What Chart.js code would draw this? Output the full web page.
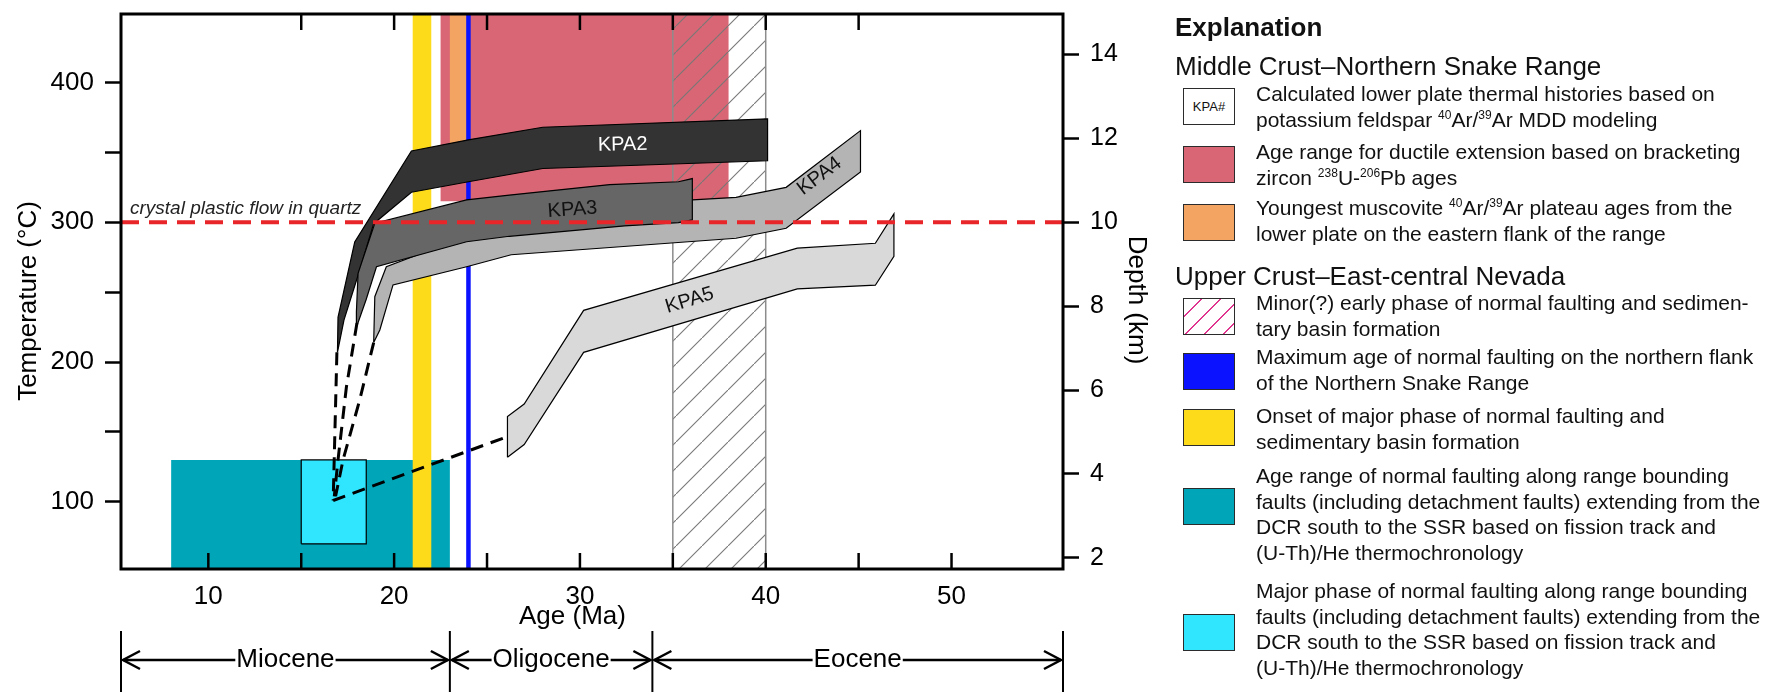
<!DOCTYPE html>
<html>
<head>
<meta charset="utf-8">
<title>Thermal histories and extension timing</title>
<script src="https://cdn.jsdelivr.net/npm/chart.js@4.4.1/dist/chart.umd.min.js"></script>
<style>
  html, body { margin: 0; padding: 0; background: #fff; }
  #wrap { position: relative; width: 1786px; height: 692px; overflow: hidden;
          font-family: 'Liberation Sans', Arial, Helvetica, sans-serif; color: #111; }
  #chart { position: absolute; left: 0; top: 0; }
  .head { position: absolute; left: 1175px; font-size: 26px; line-height: 30px; white-space: nowrap; }
  .txt { position: absolute; left: 1256px; font-size: 21px; line-height: 25.5px; white-space: nowrap; }
  .sw { position: absolute; left: 1183px; width: 50px; height: 35px; border: 1.5px solid #2b2b2b; }
  sup { font-size: 12px; line-height: 0; }
</style>
</head>
<body>
<div id="wrap">
  <canvas id="chart" width="1786" height="692"></canvas>

  <div class="head" style="top:12px;font-weight:bold;">Explanation</div>
  <div class="head" style="top:51px;">Middle Crust–Northern Snake Range</div>

  <div class="sw" style="top:88px;background:#fff;font-size:13px;line-height:35px;text-align:center;">KPA#</div>
  <div class="txt" style="top:81px;">Calculated lower plate thermal histories based on<br>potassium feldspar <sup>40</sup>Ar/<sup>39</sup>Ar MDD modeling</div>

  <div class="sw" style="top:146px;background:#d96674;"></div>
  <div class="txt" style="top:139px;">Age range for ductile extension based on bracketing<br>zircon <sup>238</sup>U-<sup>206</sup>Pb ages</div>

  <div class="sw" style="top:204px;background:#f3a462;"></div>
  <div class="txt" style="top:195px;">Youngest muscovite <sup>40</sup>Ar/<sup>39</sup>Ar plateau ages from the<br>lower plate on the eastern flank of the range</div>

  <div class="head" style="top:261px;">Upper Crust–East-central Nevada</div>

  <div class="sw" style="top:298px;background:repeating-linear-gradient(135deg,#fff 0 12px,#e0358e 12px 13.3px);"></div>
  <div class="txt" style="top:290px;">Minor(?) early phase of normal faulting and sedimen-<br>tary basin formation</div>

  <div class="sw" style="top:353px;background:#0a12ff;"></div>
  <div class="txt" style="top:344px;">Maximum age of normal faulting on the northern flank<br>of the Northern Snake Range</div>

  <div class="sw" style="top:409px;background:#fddb1a;"></div>
  <div class="txt" style="top:403px;">Onset of major phase of normal faulting and<br>sedimentary basin formation</div>

  <div class="sw" style="top:488px;background:#00a6b8;"></div>
  <div class="txt" style="top:463px;">Age range of normal faulting along range bounding<br>faults (including detachment faults) extending from the<br>DCR south to the SSR based on fission track and<br>(U-Th)/He thermochronology</div>

  <div class="sw" style="top:614px;background:#30e6ff;"></div>
  <div class="txt" style="top:578px;">Major phase of normal faulting along range bounding<br>faults (including detachment faults) extending from the<br>DCR south to the SSR based on fission track and<br>(U-Th)/He thermochronology</div>
</div>

<script>
// axes
const ageMin = 5.3, ageMax = 56;
const tempMin = 52, tempMax = 449;
const degPerKm = 30;

const tempTicks = [100, 150, 200, 250, 300, 350, 400];
const depthTicks = [2, 4, 6, 8, 10, 12, 14];
const ageLabelTicks = [10, 20, 30, 40, 50];
const ageBottomMarks = [10, 15, 20, 25, 30, 35, 40, 45, 50];
const ageTopMarks = [15, 20, 25, 30, 35, 40, 45];

const epochNames = ['Miocene', 'Oligocene', 'Eocene'];
const epochBounds = [ageMin, 23.0, 33.9, ageMax];

// age / temperature ranges
const ductileAge = [22.5, 38];
const ductileTemp = [315, tempMax];
const muscoviteAge = [23, 24];
const muscoviteTemp = [349, tempMax];
const earlyFaultAge = [35, 40];
const onsetAge = [21, 22];
const maxFaultAge = 24;
const rangeFaultAge = [8, 23];
const rangeFaultTemp = [tempMin, 130];
const majorFaultAge = [15, 18.5];
const majorFaultTemp = [70, 130];
const plasticFlowTemp = 300;

// KPA thermal history envelopes, [age Ma, temperature C]
const kpa2 = [[16.95, 207], [16.98, 232], [17.88, 286], [20.93, 351], [24.0, 359], [28.0, 368], [40.1, 374],
  [40.1, 344], [28.0, 338.5], [24.0, 329], [20.93, 321.5], [18.9, 299], [18.2, 268], [17.3, 230]];
const kpa3 = [[18.0, 226], [17.97, 236], [18.06, 263.5], [18.96, 299.3], [23.9, 316], [26.2, 319.5], [31.6, 327],
  [35.3, 329], [36.05, 331.3], [36.05, 301.7], [35.3, 299.8], [32.4, 297.4], [26.2, 290], [23.9, 286.1],
  [19.05, 268.2], [18.5, 245]];
const kpa4 = [[18.9, 214], [18.96, 246.8], [19.58, 268.2], [23.9, 290], [32, 306], [36.05, 316], [38.4, 317.8],
  [41.1, 325], [45.1, 365.6], [45.1, 336], [41.1, 295.7], [38.4, 288.6], [26.3, 276.8], [23.9, 268.2],
  [19.94, 255.2], [19.23, 223]];
const kpa5 = [[26.1, 132], [26.1, 161], [27.0, 170], [30.2, 237], [41.7, 281.5], [45.9, 285], [46.9, 306],
  [46.9, 275.6], [45.9, 255], [41.7, 252.4], [30.2, 207], [27.0, 141]];

// dashed links down to the low-temperature end
const link5 = [[25.85, 145.5], [16.72, 101]];
const link2 = [[16.92, 207], [16.72, 101]];
const link3 = [[18.0, 228], [17.43, 182], [16.98, 130], [16.78, 104]];
const link4 = [[18.9, 214], [18.15, 173], [17.25, 130], [16.85, 104]];

const kpaNames = ['KPA2', 'KPA3', 'KPA4', 'KPA5'];
const kpaLabelAt = [[32.3, 355.5], [29.6, 309], [42.9, 333], [35.9, 244]];
const kpaLabelTilt = [-1, -4, -37, -17];
const kpaLabelColor = ['#fff', '#111', '#111', '#111'];

const FONT = "'Liberation Sans', Arial, Helvetica, sans-serif";

function pts(pairs, closed) {
  const out = pairs.map(p => ({ x: p[0], y: p[1] }));
  if (closed) out.push({ x: pairs[0][0], y: pairs[0][1] });
  return out;
}

function box(ages, temps) {
  return pts([[ages[0], temps[0]], [ages[1], temps[0]], [ages[1], temps[1]], [ages[0], temps[1]]], true);
}

function hatchPattern() {
  const tile = document.createElement('canvas');
  tile.width = 26;
  tile.height = 26;
  const c = tile.getContext('2d');
  c.strokeStyle = '#777';
  c.lineWidth = 1.1;
  c.beginPath();
  c.moveTo(-2, 28);
  c.lineTo(28, -2);
  c.stroke();
  return c.createPattern(tile, 'repeat');
}

function area(data, color, border, width) {
  return { data, fill: 'shape', backgroundColor: color, borderColor: border || 'transparent', borderWidth: width || 0 };
}

function dashed(pairs) {
  return { data: pts(pairs, false), fill: false, borderColor: '#000', borderWidth: 3, borderDash: [13, 8] };
}

// listed bottom to top
const layers = [
  area(box(ductileAge, ductileTemp), '#d96674'),
  area(box(muscoviteAge, muscoviteTemp), '#f3a462'),
  area(box(earlyFaultAge, [tempMin, tempMax]), hatchPattern(), '#8c8c8c', 1.5),
  area(box(rangeFaultAge, rangeFaultTemp), '#00a6b8'),
  area(box(onsetAge, [tempMin, tempMax]), '#fddb1a'),
  { data: pts([[maxFaultAge, tempMin], [maxFaultAge, tempMax]]), fill: false, borderColor: '#0a12ff', borderWidth: 4.5 },
  area(box(majorFaultAge, majorFaultTemp), '#30e6ff', '#000', 1.2),
  area(pts(kpa2, true), '#333333', '#000', 1.2),
  area(pts(kpa4, true), '#b4b4b4', '#000', 1.2),
  area(pts(kpa3, true), '#666666', '#000', 1.2),
  area(pts(kpa5, true), '#d9d9d9', '#000', 1.2),
  dashed(link5),
  dashed(link2),
  dashed(link3),
  dashed(link4),
  { data: pts([[ageMin, plasticFlowTemp], [ageMax, plasticFlowTemp]]), fill: false,
    borderColor: '#e8262a', borderWidth: 4, borderDash: [18, 10] }
];
layers.forEach((d, i) => { d.order = layers.length - i; });

function seg(ctx, x1, y1, x2, y2) {
  ctx.beginPath();
  ctx.moveTo(x1, y1);
  ctx.lineTo(x2, y2);
  ctx.stroke();
}

const decorations = {
  id: 'decorations',
  afterDatasetsDraw(chart) {
    const { ctx, chartArea: a, scales: { x, y } } = chart;
    ctx.save();
    ctx.fillStyle = '#222';
    ctx.font = 'italic 19px ' + FONT;
    ctx.textBaseline = 'middle';
    ctx.textAlign = 'left';
    ctx.fillText('crystal plastic flow in quartz', a.left + 9, y.getPixelForValue(310));

    ctx.font = '20px ' + FONT;
    ctx.textAlign = 'center';
    kpaNames.forEach((name, i) => {
      ctx.save();
      ctx.translate(x.getPixelForValue(kpaLabelAt[i][0]), y.getPixelForValue(kpaLabelAt[i][1]));
      ctx.rotate(kpaLabelTilt[i] * Math.PI / 180);
      ctx.fillStyle = kpaLabelColor[i];
      ctx.fillText(name, 0, 0);
      ctx.restore();
    });
    ctx.restore();
  },
  afterDraw(chart) {
    const { ctx, chartArea: a, scales: { x } } = chart;
    ctx.save();
    ctx.strokeStyle = '#000';
    ctx.lineWidth = 3;
    ctx.strokeRect(a.left, a.top, a.right - a.left, a.bottom - a.top);

    ctx.lineWidth = 2.5;
    ageBottomMarks.forEach(v => {
      const px = x.getPixelForValue(v);
      seg(ctx, px, a.bottom, px, a.bottom - 16);
    });
    ageTopMarks.forEach(v => {
      const px = x.getPixelForValue(v);
      seg(ctx, px, a.top, px, a.top + 16);
    });

    // axis titles
    ctx.fillStyle = '#000';
    ctx.font = '26px ' + FONT;
    ctx.textAlign = 'center';
    ctx.textBaseline = 'middle';
    ctx.fillText('Age (Ma)', x.getPixelForValue(29.6), 617);

    ctx.save();
    ctx.translate(29, 301);
    ctx.rotate(-Math.PI / 2);
    ctx.fillText('Temperature (°C)', 0, 0);
    ctx.restore();

    ctx.save();
    ctx.translate(1136, 300);
    ctx.rotate(Math.PI / 2);
    ctx.fillText('Depth (km)', 0, 0);
    ctx.restore();

    // epoch bar
    const top = 631, bottom = 692, ay = 660;
    ctx.lineWidth = 2;
    epochBounds.forEach(v => {
      const px = x.getPixelForValue(v);
      seg(ctx, px, top, px, bottom);
    });
    ctx.lineWidth = 2.5;
    epochNames.forEach((name, i) => {
      const l = x.getPixelForValue(epochBounds[i]) + 2;
      const r = x.getPixelForValue(epochBounds[i + 1]) - 2;
      const mid = (l + r) / 2;
      const w = ctx.measureText(name).width;
      ctx.fillText(name, mid, ay);
      seg(ctx, l, ay, mid - w / 2 - 1, ay);
      seg(ctx, mid + w / 2 + 1, ay, r, ay);
      ctx.beginPath();
      ctx.moveTo(l + 17, ay - 9); ctx.lineTo(l, ay); ctx.lineTo(l + 17, ay + 9);
      ctx.moveTo(r - 17, ay - 9); ctx.lineTo(r, ay); ctx.lineTo(r - 17, ay + 9);
      ctx.stroke();
    });
    ctx.restore();
  }
};

const axisGrid = { drawOnChartArea: false, drawTicks: true, tickLength: 16, tickWidth: 2.5, tickColor: '#000', color: '#000' };

function fixSide(width) {
  return s => { s.width = width; s.paddingTop = 0; s.paddingBottom = 0; };
}

new Chart(document.getElementById('chart'), {
  type: 'line',
  data: { datasets: layers },
  options: {
    responsive: false,
    animation: false,
    devicePixelRatio: 1,
    events: [],
    layout: { padding: { left: 0, right: 623, top: 14, bottom: 73 } },
    elements: { point: { radius: 0, hoverRadius: 0 }, line: { tension: 0 } },
    plugins: { legend: { display: false }, tooltip: { enabled: false } },
    scales: {
      x: {
        type: 'linear', min: ageMin, max: ageMax,
        grid: { display: false }, border: { display: false },
        afterBuildTicks: s => { s.ticks = ageLabelTicks.map(v => ({ value: v })); },
        afterFit: s => { s.height = 50; s.paddingLeft = 0; s.paddingRight = 0; },
        ticks: { color: '#000', font: { size: 26, family: FONT }, padding: 4, maxRotation: 0, autoSkip: false }
      },
      y: {
        type: 'linear', position: 'left', min: tempMin, max: tempMax,
        grid: axisGrid, border: { display: false },
        afterBuildTicks: s => { s.ticks = tempTicks.map(v => ({ value: v })); },
        afterFit: fixSide(121),
        ticks: { color: '#000', font: { size: 26, family: FONT }, padding: 11, autoSkip: false,
                 callback: v => (v % 100 === 0 ? v : '') }
      },
      y2: {
        type: 'linear', position: 'right', min: tempMin / degPerKm, max: tempMax / degPerKm,
        grid: axisGrid, border: { display: false },
        afterBuildTicks: s => { s.ticks = depthTicks.map(v => ({ value: v })); },
        afterFit: fixSide(100),
        ticks: { color: '#000', font: { size: 25, family: FONT }, padding: 11, autoSkip: false }
      }
    }
  },
  plugins: [decorations]
});
</script>
</body>
</html>
